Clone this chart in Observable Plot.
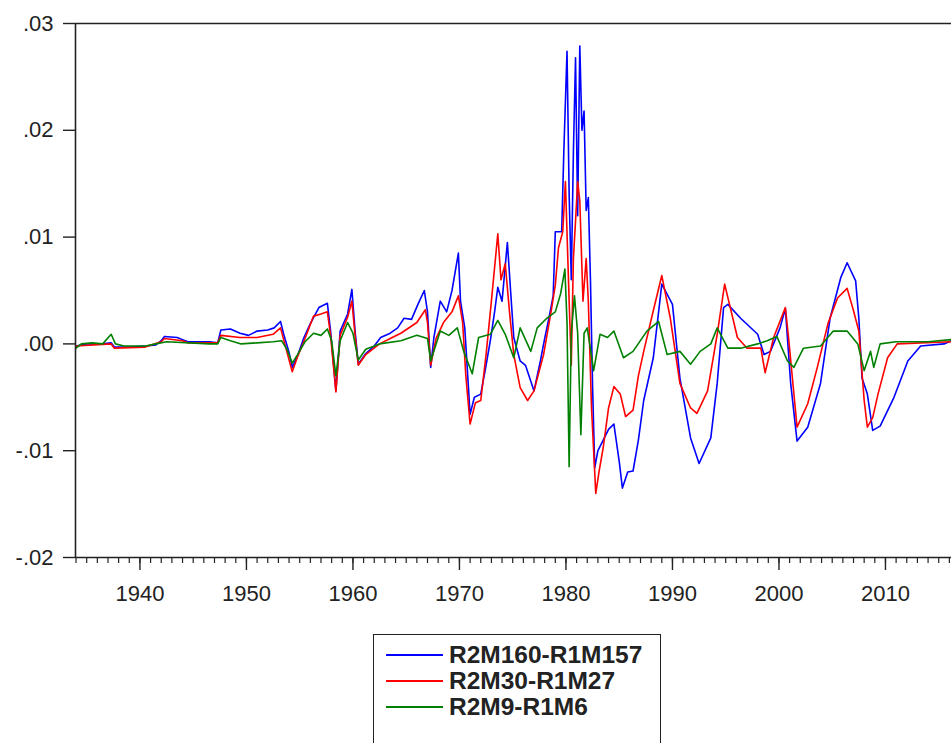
<!DOCTYPE html>
<html><head><meta charset="utf-8">
<script src="https://cdn.jsdelivr.net/npm/d3@7"></script>
<script src="https://cdn.jsdelivr.net/npm/@observablehq/plot@0.6"></script>
<style>
body{margin:0;background:#fff;overflow:hidden;font-family:Arial,"Liberation Sans",sans-serif}
#wrap{position:relative;width:951px;height:743px;overflow:hidden}
#legend{position:absolute;left:373px;top:634px;width:288px;height:130px;border:1.5px solid #222;box-sizing:border-box;background:#fff}
.row{position:absolute;left:12px;height:26px;display:flex;align-items:center}
.sw{width:57px;height:1.6px}
.lab{margin-left:6px;font-weight:bold;font-size:24.5px;color:#222;white-space:nowrap}
</style></head><body><div id="wrap"><div id="chart"></div><div id="legend"></div></div>
<script>
const seriesNames = ["R2M160-R1M157", "R2M30-R1M27", "R2M9-R1M6"];
const seriesColors = ["#0000ff", "#ff0000", "#008000"];
const xTickYears = [1940, 1950, 1960, 1970, 1980, 1990, 2000, 2010];
const yTickValues = [-0.02, -0.01, 0, 0.01, 0.02, 0.03];

const blueYears = [1934.0,1935.0,1936.5,1937.3,1937.6,1939.0,1940.5,1941.5,1942.0,1942.3,1943.5,1944.0,1944.5,1946.5,1947.3,1947.6,1948.5,1949.4,1950.2,1951.0,1952.0,1952.6,1953.2,1953.5,1954.0,1954.3,1954.8,1955.4,1956.0,1956.8,1957.6,1957.9,1958.4,1958.8,1959.5,1959.9,1960.2,1960.5,1961.2,1962.0,1962.6,1963.5,1964.2,1964.8,1965.5,1966.1,1966.7,1967.0,1967.3,1967.6,1968.2,1968.8,1969.3,1969.9,1970.1,1970.5,1971.0,1971.4,1972.0,1972.5,1972.9,1973.3,1973.6,1974.0,1974.5,1974.8,1975.1,1975.7,1976.2,1976.7,1977.0,1977.3,1977.6,1978.0,1978.4,1978.8,1979.0,1979.6,1979.8,1980.1,1980.3,1980.5,1980.7,1980.9,1981.1,1981.3,1981.5,1981.7,1981.9,1982.1,1982.3,1982.5,1982.7,1983.0,1983.5,1984.0,1984.5,1985.0,1985.3,1985.8,1986.3,1986.8,1987.3,1988.2,1989.0,1990.0,1990.7,1991.7,1992.5,1993.6,1994.2,1994.8,1995.2,1996.4,1998.0,1998.6,1999.2,2000.1,2000.6,2001.1,2001.7,2002.7,2003.9,2004.8,2005.8,2006.4,2007.2,2007.5,2007.8,2008.3,2008.8,2009.5,2010.8,2012.1,2013.3,2015.5,2016.2];
const blueValues = [-0.0002,0.0000,0.0000,0.0001,-0.0003,-0.0003,-0.0002,-0.0001,0.0003,0.0007,0.0006,0.0004,0.0002,0.0002,0.0001,0.0013,0.0014,0.0010,0.0008,0.0012,0.0013,0.0015,0.0021,0.0009,-0.0008,-0.0022,-0.0011,0.0006,0.0019,0.0034,0.0038,0.0012,-0.0044,0.0012,0.0028,0.0051,0.0012,-0.0019,-0.0009,-0.0002,0.0006,0.0010,0.0015,0.0024,0.0023,0.0037,0.0050,0.0030,-0.0022,0.0006,0.0040,0.0030,0.0050,0.0085,0.0040,0.0015,-0.0066,-0.0050,-0.0047,-0.0020,0.0003,0.0030,0.0053,0.0040,0.0095,0.0050,0.0006,-0.0016,-0.0020,-0.0035,-0.0044,-0.0030,-0.0016,0.0005,0.0024,0.0045,0.0105,0.0105,0.0180,0.0274,0.0140,0.0060,0.0180,0.0268,0.0120,0.0279,0.0200,0.0218,0.0125,0.0137,0.0060,-0.0040,-0.0116,-0.0100,-0.0090,-0.0080,-0.0075,-0.0110,-0.0135,-0.0120,-0.0119,-0.0090,-0.0053,-0.0013,0.0056,0.0037,-0.0032,-0.0088,-0.0112,-0.0088,-0.0037,0.0034,0.0037,0.0024,0.0009,-0.0010,-0.0007,0.0015,0.0033,-0.0037,-0.0091,-0.0078,-0.0037,0.0024,0.0062,0.0076,0.0059,0.0024,-0.0032,-0.0047,-0.0081,-0.0077,-0.0050,-0.0016,-0.0002,0.0000,0.0003];

const redYears = [1934.0,1937.3,1937.6,1940.5,1942.0,1942.3,1944.0,1944.5,1947.3,1947.6,1949.4,1951.0,1952.5,1953.2,1953.6,1954.3,1954.8,1955.5,1956.3,1957.0,1957.6,1957.9,1958.4,1958.8,1959.5,1959.9,1960.2,1960.5,1961.2,1962.5,1963.5,1964.5,1966.0,1966.8,1967.0,1967.3,1967.8,1968.5,1969.3,1969.9,1970.3,1970.6,1971.0,1971.5,1972.0,1972.5,1973.0,1973.6,1973.9,1974.3,1974.7,1975.1,1975.7,1976.4,1977.0,1977.9,1978.6,1979.0,1979.3,1979.7,1979.95,1980.3,1980.5,1980.7,1980.9,1981.1,1981.3,1981.6,1981.9,1982.1,1982.4,1982.8,1983.1,1983.5,1984.0,1984.5,1985.1,1985.6,1986.3,1986.8,1987.3,1988.2,1989.0,1989.8,1990.7,1991.7,1992.3,1993.3,1994.2,1994.9,1995.5,1996.1,1997.0,1998.3,1998.7,1999.5,2000.6,2000.9,2001.7,2002.7,2003.6,2004.6,2005.5,2006.4,2007.0,2007.5,2008.0,2008.3,2008.8,2009.3,2010.2,2011.1,2016.2];
const redValues = [-0.0002,0.0000,-0.0004,-0.0003,0.0002,0.0005,0.0003,0.0001,0.0001,0.0008,0.0006,0.0006,0.0009,0.0015,0.0000,-0.0026,-0.0012,0.0005,0.0026,0.0028,0.0030,0.0008,-0.0045,0.0008,0.0025,0.0040,0.0008,-0.0020,-0.0010,0.0000,0.0005,0.0010,0.0020,0.0032,0.0020,-0.0020,0.0005,0.0020,0.0030,0.0045,0.0020,-0.0030,-0.0075,-0.0055,-0.0053,-0.0010,0.0040,0.0103,0.0060,0.0075,0.0030,-0.0010,-0.0041,-0.0053,-0.0044,-0.0010,0.0030,0.0055,0.0090,0.0105,0.0152,0.0040,-0.0020,0.0080,0.0115,0.0152,0.0134,0.0040,0.0080,0.0040,-0.0060,-0.0140,-0.0120,-0.0097,-0.0060,-0.0040,-0.0047,-0.0068,-0.0062,-0.0030,-0.0007,0.0031,0.0064,0.0024,-0.0037,-0.0060,-0.0065,-0.0044,0.0009,0.0056,0.0031,0.0006,-0.0004,-0.0004,-0.0027,0.0006,0.0034,0.0006,-0.0078,-0.0056,-0.0022,0.0019,0.0043,0.0052,0.0031,0.0012,-0.0053,-0.0078,-0.0069,-0.0047,-0.0013,0.0000,0.0002];

const greenYears = [1934.0,1934.5,1935.5,1936.5,1937.3,1937.7,1938.5,1940.5,1941.5,1942.5,1946.5,1947.3,1947.6,1948.5,1949.5,1951.0,1952.5,1953.3,1953.8,1954.3,1954.8,1955.5,1956.3,1957.0,1957.6,1958.0,1958.4,1958.8,1959.5,1960.0,1960.5,1961.2,1962.5,1964.5,1966.0,1967.0,1967.3,1968.2,1969.0,1969.8,1970.4,1971.2,1971.8,1972.9,1973.6,1974.3,1975.1,1975.7,1976.7,1977.3,1978.2,1979.0,1979.5,1979.9,1980.1,1980.3,1980.5,1980.8,1981.1,1981.4,1981.7,1982.0,1982.6,1983.2,1983.9,1984.5,1985.4,1986.3,1987.6,1988.7,1989.5,1990.7,1991.7,1992.6,1993.6,1994.2,1995.2,1996.4,1998.0,1998.9,1999.8,2000.8,2001.4,2002.3,2003.9,2005.1,2006.4,2007.4,2008.0,2008.6,2008.9,2009.5,2011.0,2014.0,2016.2];
const greenValues = [-0.0004,0.0000,0.0001,0.0000,0.0009,0.0000,-0.0002,-0.0002,0.0000,0.0002,0.0000,0.0000,0.0006,0.0003,0.0000,0.0001,0.0002,0.0003,-0.0005,-0.0018,-0.0010,0.0002,0.0010,0.0008,0.0014,0.0003,-0.0030,0.0003,0.0020,0.0010,-0.0015,-0.0005,0.0000,0.0003,0.0008,0.0005,-0.0016,0.0012,0.0008,0.0015,-0.0007,-0.0028,0.0006,0.0009,0.0022,0.0009,-0.0013,0.0015,-0.0007,0.0015,0.0024,0.0030,0.0047,0.0070,0.0020,-0.0115,0.0010,0.0045,0.0010,-0.0085,0.0010,0.0015,-0.0025,0.0009,0.0006,0.0012,-0.0013,-0.0007,0.0012,0.0021,-0.0010,-0.0007,-0.0019,-0.0007,0.0000,0.0015,-0.0004,-0.0004,0.0000,0.0003,0.0007,-0.0016,-0.0022,-0.0004,-0.0002,0.0012,0.0012,0.0000,-0.0025,-0.0007,-0.0022,0.0000,0.0002,0.0002,0.0004];

const toRows = (ys, vs) => ys.map((y, i) => ({year: y, value: vs[i]}));
const blueData = toRows(blueYears, blueValues);
const redData = toRows(redYears, redValues);
const greenData = toRows(greenYears, greenValues);

const xMin = 1933.95, xMax = 2016.2;
const minorYears = d3.range(1934, 2017);
const axisColor = "#222";

const chart = Plot.plot({
  width: 951,
  height: 610,
  marginLeft: 75,
  marginRight: 0,
  marginTop: 23,
  marginBottom: 53,
  style: {fontFamily: "Arial, 'Liberation Sans', sans-serif", fontSize: "22px", color: axisColor, background: "#fff"},
  x: {domain: [xMin, xMax], label: null},
  y: {domain: [-0.02, 0.03], label: null},
  marks: [
    Plot.line(blueData, {x: "year", y: "value", stroke: seriesColors[0], strokeWidth: 1.6}),
    Plot.line(redData, {x: "year", y: "value", stroke: seriesColors[1], strokeWidth: 1.6}),
    Plot.line(greenData, {x: "year", y: "value", stroke: seriesColors[2], strokeWidth: 1.6}),
    Plot.ruleY([0.03], {stroke: axisColor, strokeWidth: 1.6}),
    Plot.ruleY([-0.02], {stroke: axisColor, strokeWidth: 1.6}),
    Plot.ruleX([xMin], {stroke: axisColor, strokeWidth: 1.6}),
    Plot.axisX({ticks: minorYears, tickSize: 6, tickFormat: () => "", label: null, strokeWidth: 1.2}),
    Plot.axisX({ticks: xTickYears, tickSize: 13, tickPadding: 15, tickFormat: "d", label: null, strokeWidth: 1.4}),
    Plot.axisY({ticks: yTickValues, tickSize: 12, tickPadding: 10, label: null, strokeWidth: 1.4,
      tickFormat: d => d.toFixed(2).replace("0.", ".")})
  ]
});
document.getElementById("chart").appendChild(chart);

const legend = document.getElementById("legend");
seriesNames.forEach((name, i) => {
  const row = document.createElement("div");
  row.className = "row";
  row.style.top = (7 + i * 26) + "px";
  const sw = document.createElement("div");
  sw.className = "sw";
  sw.style.backgroundColor = seriesColors[i];
  const lab = document.createElement("span");
  lab.className = "lab";
  lab.textContent = name;
  row.appendChild(sw);
  row.appendChild(lab);
  legend.appendChild(row);
});
</script>
</body></html>
